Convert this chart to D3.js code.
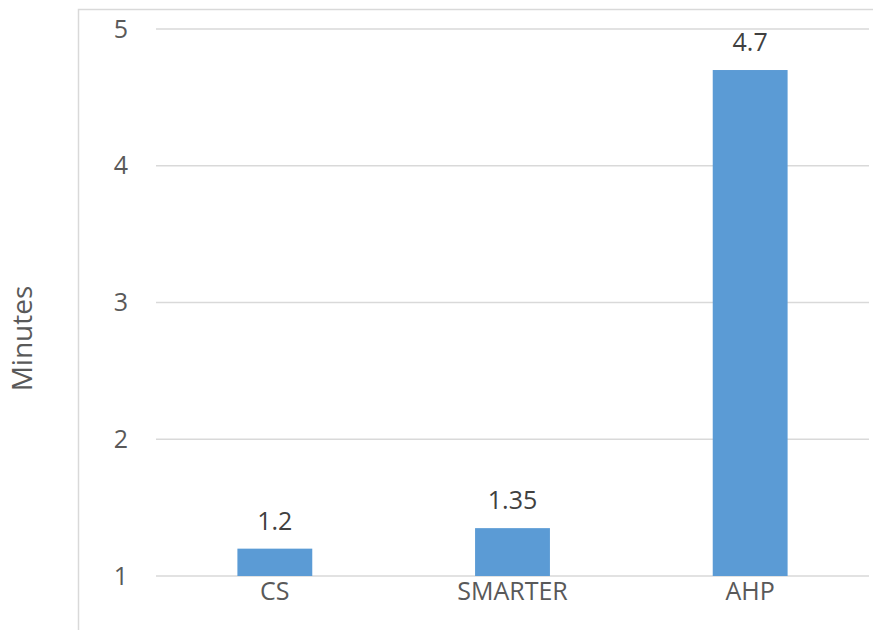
<!DOCTYPE html>
<html>
<head>
<meta charset="utf-8">
<script src="https://d3js.org/d3.v7.min.js"></script>
<style>
  body { margin: 0; background: #fff; }
</style>
</head>
<body>
<div id="chart"></div>
<script>
// data
var categories = ['CS', 'SMARTER', 'AHP'];
var minutes    = [1.2, 1.35, 4.7];
var yTicks     = [1, 2, 3, 4, 5];

var W = 873, H = 630;
var margin = { top: 29, right: 4, bottom: 54, left: 156 };
var width  = W - margin.left - margin.right;
var height = H - margin.top - margin.bottom;
var font   = "'Open Sans', 'Liberation Sans', sans-serif";
var textColor = '#595959';

var svg = d3.select('#chart')
  .append('svg')
  .attr('width', W)
  .attr('height', H);

// chart border (goes off the right and bottom of the picture)
svg.append('rect')
  .attr('x', 78.5)
  .attr('y', 9.5)
  .attr('width', W)
  .attr('height', H)
  .attr('fill', 'none')
  .attr('stroke', '#d9d9d9')
  .attr('stroke-width', 1.5);

var g = svg.append('g')
  .attr('transform', 'translate(' + margin.left + ',' + margin.top + ')');

var xScale = d3.scaleBand()
  .domain(categories)
  .range([0, width])
  .paddingInner(0.685)
  .paddingOuter(0.3425);

var yScale = d3.scaleLinear()
  .domain([1, 5])
  .range([height, 0]);

// gridlines
g.selectAll('.grid')
  .data(yTicks)
  .enter()
  .append('line')
  .attr('x1', 0)
  .attr('x2', width)
  .attr('y1', function(d) { return yScale(d); })
  .attr('y2', function(d) { return yScale(d); })
  .attr('stroke', '#d9d9d9')
  .attr('stroke-width', 1.5);

// y axis labels
var yAxis = d3.axisLeft(yScale)
  .tickValues(yTicks)
  .tickSize(0)
  .tickPadding(28)
  .tickFormat(d3.format('d'));

var yGuide = g.append('g').call(yAxis);
yGuide.select('.domain').remove();
yGuide.selectAll('text')
  .attr('fill', textColor)
  .style('font-family', font)
  .style('font-size', '25px');

// x axis labels
var xAxis = d3.axisBottom(xScale)
  .tickSize(0)
  .tickPadding(6);

var xGuide = g.append('g')
  .attr('transform', 'translate(0,' + height + ')')
  .call(xAxis);
xGuide.select('.domain').remove();
xGuide.selectAll('text')
  .attr('fill', textColor)
  .style('font-family', font)
  .style('font-size', '25px');

// bars
g.selectAll('.bar')
  .data(minutes)
  .enter()
  .append('rect')
  .attr('x', function(d, i) { return xScale(categories[i]); })
  .attr('y', function(d) { return yScale(d); })
  .attr('width', xScale.bandwidth())
  .attr('height', function(d) { return height - yScale(d); })
  .attr('fill', '#5b9bd5');

// value labels
g.selectAll('.val')
  .data(minutes)
  .enter()
  .append('text')
  .attr('x', function(d, i) { return xScale(categories[i]) + xScale.bandwidth() / 2; })
  .attr('y', function(d) { return yScale(d) - 19; })
  .attr('text-anchor', 'middle')
  .attr('fill', '#404040')
  .style('font-family', font)
  .style('font-size', '25px')
  .text(function(d) { return d; });

// y axis title
svg.append('text')
  .attr('transform', 'translate(32,' + (margin.top + height / 2 + 36) + ') rotate(-90)')
  .attr('text-anchor', 'middle')
  .attr('fill', textColor)
  .style('font-family', font)
  .style('font-size', '28px')
  .text('Minutes');
</script>
</body>
</html>
